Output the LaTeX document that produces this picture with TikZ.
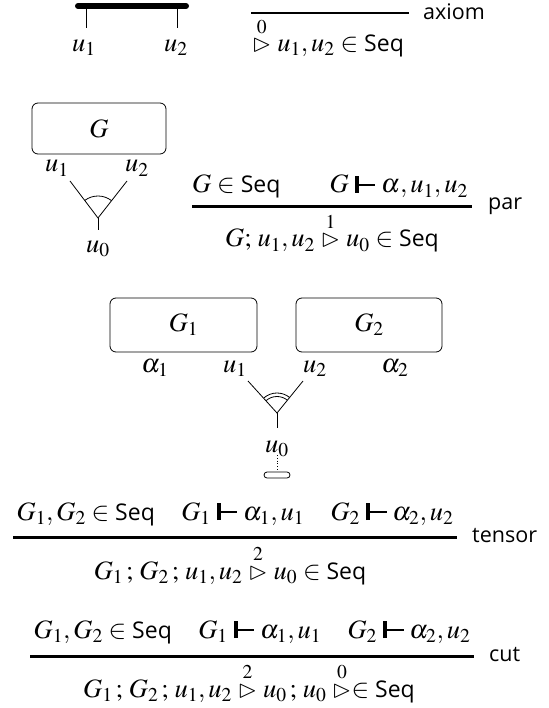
\documentclass[tikz,border=0pt]{standalone}
\usepackage{mathptmx}
\usepackage{latexsym}
\usepackage[no-math]{fontspec}
\setsansfont{Open Sans}
\newcommand{\Seq}{\mbox{\fontsize{23}{27}\selectfont\sffamily Seq}}
\newcommand{\tstile}{\mathrel{\rule{0.16em}{0.64em}\rule[0.28em]{0.62em}{0.06em}}}
\newcommand{\tri}[1]{\mathrel{\stackrel{#1}{\rhd}}}
\begin{document}
\begin{tikzpicture}[x=1pt,y=-1pt,
  every node/.style={inner sep=0pt, font=\fontsize{26.5}{30}\selectfont},
  netbox/.style={draw, rounded corners=6pt, line width=0.8pt},
  wire/.style={line width=0.8pt},
  rulebar/.style={line width=3pt},
  thinbar/.style={line width=2pt},
  rname/.style={anchor=west, font=\fontsize{21.5}{25}\selectfont\sffamily},
  prem/.style={anchor=base},
]
\useasboundingbox (0,0) rectangle (548,708);

% ---------- axiom ----------
\coordinate (a1) at (78,6);
\coordinate (a2) at (186,6);
\coordinate (t1) at (86,6);
\coordinate (t1e) at (86,28);
\coordinate (t2) at (177,6);
\coordinate (t2e) at (177,28);
\draw[line width=6pt, line cap=round] (a1) -- (a2);
\draw[wire] (t1) -- (t1e);
\draw[wire] (t2) -- (t2e);
\node[prem] (au1) at (84,52) {$u_1$};
\node[prem] (au2) at (176,52) {$u_2$};

\coordinate (ar1) at (251,13);
\coordinate (ar2) at (409,13);
\draw[thinbar] (ar1) -- (ar2);
\node[rname] (axl) at (423,12) {axiom};
\node[prem] (axc) at (328,52) {$\tri{0} u_1,u_2 \in \Seq$};

% ---------- par ----------
\node[netbox, minimum width=134pt, minimum height=51pt] (G) at (99,128.5) {$G$};
\node[prem] (pu1) at (57,172) {$u_1$};
\node[prem] (pu2) at (137,172) {$u_2$};
\coordinate (pv) at (98,218);
\coordinate (pl) at (70,181);
\coordinate (pr) at (127,181);
\coordinate (ps) at (98,230);
\draw[wire] (pl) -- (pv) -- (pr);
\draw[wire] (pv) -- (ps);
\draw[wire] ([shift={(52:22pt)}]pv) arc[start angle=52, end angle=127, radius=22pt];
\node[prem] (pu0) at (98,252) {$u_0$};

\coordinate (pr1) at (192,207);
\coordinate (pr2) at (472,207);
\draw[rulebar] (pr1) -- (pr2);
\node[rname] (parl) at (488,206) {par};
\node[prem, anchor=base west] (pp1) at (192,193) {$G \in \Seq$};
\node[prem, anchor=base east] (pp2) at (468,193) {$G \tstile \alpha, u_1, u_2$};
\node[prem] (pc) at (332,247) {$G;\, u_1,u_2 \tri{1} u_0 \in \Seq$};

% ---------- tensor picture ----------
\node[netbox, minimum width=147pt, minimum height=54pt] (G1) at (183.5,325) {$G_1$};
\node[netbox, minimum width=146pt, minimum height=54pt] (G2) at (369,325) {$G_2$};
\node[prem] (ta1) at (155,372) {$\alpha_1$};
\node[prem] (tu1) at (235,372) {$u_1$};
\node[prem] (tu2) at (315,372) {$u_2$};
\node[prem] (ta2) at (395,372) {$\alpha_2$};
\coordinate (tv) at (277,413);
\coordinate (tl) at (248,381);
\coordinate (tr) at (303,381);
\coordinate (ts) at (277,428);
\draw[wire] (tl) -- (tv) -- (tr);
\draw[wire] (tv) -- (ts);
\draw[wire] ([shift={(51:20pt)}]tv) arc[start angle=51, end angle=131, radius=20pt];
\draw[wire] ([shift={(51:16.5pt)}]tv) arc[start angle=51, end angle=131, radius=16.5pt];
\node[prem] (tu0) at (277,452) {$u_0$};
\coordinate (dt1) at (277,455);
\node[draw, line width=0.8pt, rounded corners=3pt, minimum width=26pt, minimum height=6pt] (cap) at (277,475) {};
\draw[wire, dotted] (dt1) -- (cap.north);

% ---------- tensor rule ----------
\coordinate (tr1) at (13,537);
\coordinate (tr2) at (457,537);
\draw[rulebar] (tr1) -- (tr2);
\node[rname] (tenl) at (472,536) {tensor};
\node[prem] (tp) at (235,520) {$G_1,G_2 \in \Seq \quad G_1 \tstile \alpha_1, u_1 \quad G_2 \tstile \alpha_2, u_2$};
\node[prem] (tc) at (230,579) {$G_1\,;\, G_2\,;\, u_1,u_2 \tri{2} u_0 \in \Seq$};

% ---------- cut rule ----------
\coordinate (cr1) at (30,656);
\coordinate (cr2) at (474,656);
\draw[rulebar] (cr1) -- (cr2);
\node[rname] (cutl) at (489,655) {cut};
\node[prem] (cp) at (252,638) {$G_1,G_2 \in \Seq \quad G_1 \tstile \alpha_1, u_1 \quad G_2 \tstile \alpha_2, u_2$};
\node[prem] (cc) at (249,697) {$G_1\,;\, G_2\,;\, u_1,u_2 \tri{2} u_0\,;\, u_0 \tri{0} \in \Seq$};
\end{tikzpicture}
\end{document}
